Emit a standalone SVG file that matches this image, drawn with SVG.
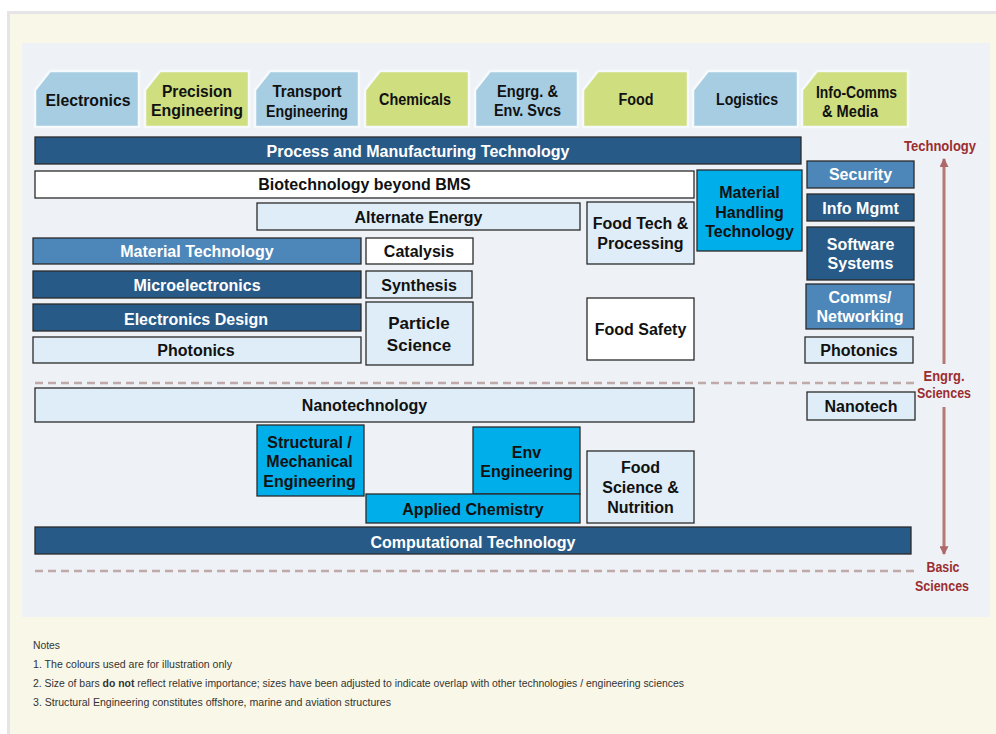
<svg xmlns="http://www.w3.org/2000/svg" width="996" height="734" viewBox="0 0 996 734">
<defs>
<style>
.t{font-family:"Liberation Sans",Arial,sans-serif;font-weight:bold;font-size:16px;text-anchor:middle;fill:#111}
.w{fill:#fff}
.s14{font-size:16px}
.bx{stroke:#2a2a2a;stroke-width:1.3}
.dk{fill:#285a87}
.md{fill:#4d87ba}
.cy{fill:#00aeea}
.lt{fill:#deedf7}
.wh{fill:#ffffff}
.tabB{fill:#a6cde2;stroke:#f6fafc;stroke-width:2.5}
.tabG{fill:#cfde7f;stroke:#f6fafc;stroke-width:2.5}
.red{font-family:"Liberation Sans",Arial,sans-serif;font-weight:bold;font-size:15px;text-anchor:middle;fill:#9b2d30}
.dash{stroke:#bfa9a9;stroke-width:2.5;stroke-dasharray:8 5;fill:none}
.arr{stroke:#b06a6a;stroke-width:3;fill:none;opacity:0.9}
.note{font-family:"Liberation Sans",Arial,sans-serif;font-size:10px;fill:#333}
</style>
<marker id="ah" viewBox="0 0 8 8" refX="7" refY="4" markerWidth="9" markerHeight="9" markerUnits="userSpaceOnUse" orient="auto">
<path d="M0,0 L8,4 L0,8 z" fill="#a65a5a"/>
</marker>
</defs>

<rect x="0" y="0" width="996" height="734" fill="#ffffff"/>
<rect x="7" y="11" width="989" height="723" fill="#e6e4e6"/>
<rect x="10" y="14" width="986" height="720" fill="#f9f7e8"/>
<rect x="22" y="43" width="968" height="574" fill="#eef2f6"/>

<!-- tabs -->
<g id="tab-electronics"><path class="tabB" d="M35,90 L50,71 H139 V127 H35 Z"/><text class="t" x="88" y="105.5" textLength="85" lengthAdjust="spacingAndGlyphs">Electronics</text></g>
<g id="tab-precision"><path class="tabG" d="M145,90 L160,71 H249 V127 H145 Z"/><text class="t" x="197" y="96.5" textLength="70" lengthAdjust="spacingAndGlyphs">Precision</text><text class="t" x="197" y="116" textLength="92" lengthAdjust="spacingAndGlyphs">Engineering</text></g>
<g id="tab-transport"><path class="tabB" d="M255,90 L270,71 H359 V127 H255 Z"/><text class="t s14" x="307" y="97" textLength="69" lengthAdjust="spacingAndGlyphs">Transport</text><text class="t s14" x="307" y="116.5" textLength="82" lengthAdjust="spacingAndGlyphs">Engineering</text></g>
<g id="tab-chemicals"><path class="tabG" d="M365,90 L380,71 H469 V127 H365 Z"/><text class="t s14" x="415" y="105" textLength="72" lengthAdjust="spacingAndGlyphs">Chemicals</text></g>
<g id="tab-engrg"><path class="tabB" d="M475,90 L490,71 H578 V127 H475 Z"/><text class="t s14" x="527.5" y="97" textLength="61" lengthAdjust="spacingAndGlyphs">Engrg. &amp;</text><text class="t s14" x="527.5" y="116" textLength="67" lengthAdjust="spacingAndGlyphs">Env. Svcs</text></g>
<g id="tab-food"><path class="tabG" d="M583,90 L598,71 H688 V127 H583 Z"/><text class="t s14" x="636" y="105" textLength="35" lengthAdjust="spacingAndGlyphs">Food</text></g>
<g id="tab-logistics"><path class="tabB" d="M693,90 L708,71 H798 V127 H693 Z"/><text class="t s14" x="747" y="105" textLength="62" lengthAdjust="spacingAndGlyphs">Logistics</text></g>
<g id="tab-infocomms"><path class="tabG" d="M802,90 L817,71 H908 V127 H802 Z"/><text class="t s14" x="856.5" y="98" textLength="81" lengthAdjust="spacingAndGlyphs">Info-Comms</text><text class="t s14" x="850" y="117" textLength="56" lengthAdjust="spacingAndGlyphs">&amp; Media</text></g>

<!-- separators -->
<line class="dash" x1="35" y1="383" x2="914" y2="383"/>
<line class="dash" x1="35" y1="571" x2="914" y2="571"/>

<!-- bars -->
<g id="process"><rect class="bx dk" x="35" y="137" width="766" height="27"/><text class="t w" x="418" y="157">Process and Manufacturing Technology</text></g>
<g id="biotech"><rect class="bx wh" x="35" y="171" width="659" height="27"/><text class="t" x="364.5" y="190">Biotechnology beyond BMS</text></g>
<g id="alternate-energy"><rect class="bx lt" x="257" y="203" width="323" height="27"/><text class="t" x="418.5" y="222.5">Alternate Energy</text></g>
<g id="material-tech"><rect class="bx md" x="33" y="238" width="328" height="26"/><text class="t w" x="197" y="257">Material Technology</text></g>
<g id="microelectronics"><rect class="bx dk" x="33" y="271" width="328" height="27"/><text class="t w" x="197" y="291">Microelectronics</text></g>
<g id="electronics-design"><rect class="bx dk" x="33" y="304" width="328" height="27"/><text class="t w" x="196" y="324.5">Electronics Design</text></g>
<g id="photonics-left"><rect class="bx lt" x="33" y="337" width="328" height="26"/><text class="t" x="196" y="356">Photonics</text></g>
<g id="catalysis"><rect class="bx wh" x="366" y="238" width="107" height="26"/><text class="t" x="419" y="257">Catalysis</text></g>
<g id="synthesis"><rect class="bx lt" x="366" y="271" width="106" height="27"/><text class="t" x="419" y="291">Synthesis</text></g>
<g id="particle-science"><rect class="bx lt" x="366" y="302" width="107" height="63"/><text class="t" style="font-size:17px" x="419" y="329">Particle</text><text class="t" style="font-size:17px" x="419" y="351">Science</text></g>
<g id="food-tech"><rect class="bx lt" x="587" y="202" width="107" height="62"/><text class="t" x="640.5" y="228.5">Food Tech &amp;</text><text class="t" x="640.5" y="248.5">Processing</text></g>
<g id="material-handling"><rect class="bx cy" x="697" y="170" width="105" height="81"/><text class="t" x="749.5" y="198">Material</text><text class="t" x="749.5" y="217.5">Handling</text><text class="t" x="749.5" y="237">Technology</text></g>
<g id="food-safety"><rect class="bx wh" x="587" y="298" width="107" height="62"/><text class="t" x="640.5" y="334.5">Food Safety</text></g>
<g id="security"><rect class="bx md" x="807" y="161" width="107" height="27"/><text class="t w" x="860.5" y="179.5">Security</text></g>
<g id="info-mgmt"><rect class="bx dk" x="807" y="194" width="107" height="27"/><text class="t w" x="860.5" y="213.5">Info Mgmt</text></g>
<g id="software-systems"><rect class="bx dk" x="807" y="227" width="107" height="53"/><text class="t w" x="860.5" y="249.5">Software</text><text class="t w" x="860.5" y="268.5">Systems</text></g>
<g id="comms-networking"><rect class="bx md" x="806" y="284" width="108" height="45"/><text class="t w" x="860" y="302.5">Comms/</text><text class="t w" x="860" y="321.5">Networking</text></g>
<g id="photonics-right"><rect class="bx lt" x="805" y="337" width="108" height="26"/><text class="t" x="859" y="355.5">Photonics</text></g>
<g id="nanotechnology"><rect class="bx lt" x="35" y="388" width="659" height="34"/><text class="t" x="364.5" y="410.5">Nanotechnology</text></g>
<g id="nanotech"><rect class="bx lt" x="807" y="392" width="108" height="28"/><text class="t" x="861" y="412">Nanotech</text></g>
<g id="structural"><rect class="bx cy" x="257" y="425" width="107" height="71"/><text class="t" x="309.5" y="447.5">Structural /</text><text class="t" x="309.5" y="466.5">Mechanical</text><text class="t" x="309.5" y="486.5">Engineering</text></g>
<g id="env-engineering"><rect class="bx cy" x="473" y="427" width="107" height="67"/><text class="t" x="526.5" y="457.5">Env</text><text class="t" x="526.5" y="476.5">Engineering</text></g>
<g id="applied-chemistry"><rect class="bx cy" x="366" y="494" width="214" height="29"/><text class="t" x="473" y="514.5">Applied Chemistry</text></g>
<g id="food-science"><rect class="bx lt" x="587" y="451" width="107" height="72"/><text class="t" x="640.5" y="472.5">Food</text><text class="t" x="640.5" y="493">Science &amp;</text><text class="t" x="640.5" y="513">Nutrition</text></g>
<g id="computational"><rect class="bx dk" x="35" y="527" width="876" height="27"/><text class="t w" x="473" y="547.5">Computational Technology</text></g>

<!-- axis labels -->
<g id="label-technology"><text class="red" x="940" y="151" textLength="72" lengthAdjust="spacingAndGlyphs">Technology</text></g>
<g id="label-engrg-sciences"><text class="red" x="944" y="381" textLength="41" lengthAdjust="spacingAndGlyphs">Engrg.</text><text class="red" x="944" y="398" textLength="54" lengthAdjust="spacingAndGlyphs">Sciences</text></g>
<g id="label-basic-sciences"><text class="red" x="943" y="572" textLength="33" lengthAdjust="spacingAndGlyphs">Basic</text><text class="red" x="942" y="591" textLength="54" lengthAdjust="spacingAndGlyphs">Sciences</text></g>

<g id="connectors">
<line class="arr" x1="944" y1="364" x2="944" y2="159" marker-end="url(#ah)"/>
<line class="arr" x1="944" y1="407" x2="944" y2="554" marker-end="url(#ah)"/>
</g>

<!-- notes -->
<g id="notes">
<text class="note" x="33" y="649" textLength="27" lengthAdjust="spacingAndGlyphs">Notes</text>
<text class="note" x="33" y="668" textLength="199" lengthAdjust="spacingAndGlyphs">1. The colours used are for illustration only</text>
<text class="note" x="33" y="687" textLength="651" lengthAdjust="spacingAndGlyphs">2. Size of bars <tspan font-weight="bold">do not</tspan> reflect relative importance; sizes have been adjusted to indicate overlap with other technologies / engineering sciences</text>
<text class="note" x="33" y="706" textLength="358" lengthAdjust="spacingAndGlyphs">3. Structural Engineering constitutes offshore, marine and aviation structures</text>
</g>
</svg>
